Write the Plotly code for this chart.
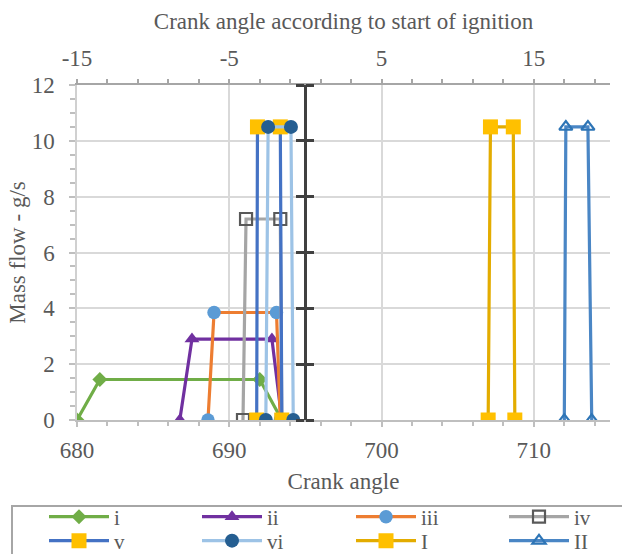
import plotly.graph_objects as go

# Mass flow pulses versus crank angle for each injection case
crank_i = [680.0, 681.5, 692.0, 693.45]
flow_i = [0.0, 1.45, 1.45, 0.0]

crank_ii = [686.75, 687.55, 692.8, 693.45]
flow_ii = [0.0, 2.9, 2.9, 0.0]

crank_iii = [688.6, 689.0, 693.1, 693.35]
flow_iii = [0.0, 3.85, 3.85, 0.0]

crank_iv = [690.9, 691.1, 693.35, 693.45]
flow_iv = [0.0, 7.2, 7.2, 0.0]

crank_v = [691.8, 691.85, 693.35, 693.45]
flow_v = [0.0, 10.5, 10.5, 0.0]

crank_vi = [692.4, 692.55, 694.05, 694.2]
flow_vi = [0.0, 10.5, 10.5, 0.0]

crank_I = [707.0, 707.15, 708.65, 708.75]
flow_I = [0.0, 10.5, 10.5, 0.0]

crank_II = [712.0, 712.1, 713.55, 713.8]
flow_II = [0.0, 10.5, 10.5, 0.0]

ignition_start = 695.0
x_range = [680.0, 715.0]
y_range = [0.0, 12.0]
rel_tick_vals = [-15, -5, 5, 15]
rel_tick_text = ["-15", "-5", "5", "15"]

FONT = "Times New Roman"
TXT = "#595959"
FS = 23

series = [
    ("i", crank_i, flow_i, "#70AD47", dict(symbol="diamond", size=11.5, color="#70AD47")),
    ("ii", crank_ii, flow_ii, "#7030A0", dict(symbol="triangle-up", size=13, color="#7030A0")),
    ("iii", crank_iii, flow_iii, "#ED7D31", dict(symbol="circle", size=13.5, color="#5B9BD5")),
    ("iv", crank_iv, flow_iv, "#A5A5A5",
     dict(symbol="square-open", size=12, color="#595959", line=dict(width=2.2, color="#595959"))),
    ("v", crank_v, flow_v, "#4472C4", dict(symbol="square", size=15, color="#FFC000")),
    ("vi", crank_vi, flow_vi, "#9DC3E6", dict(symbol="circle", size=14, color="#255E91")),
    ("I", crank_I, flow_I, "#E3AC00", dict(symbol="square", size=15, color="#FFC000")),
    ("II", crank_II, flow_II, "#4A86C5",
     dict(symbol="triangle-up-open", size=11.5, color="#2E75B6", line=dict(width=2.2, color="#2E75B6"))),
]

# legend grid: 4 columns x 2 rows, one legend per entry
LEG_COL_PX = [44, 197, 351, 504]
LEG_ROW_PX = [517, 541]
PLOT_L, PLOT_T, PLOT_W, PLOT_H = 77, 85, 533, 335

tf = dict(family=FONT, size=FS, color=TXT)
leg_font = dict(family=FONT, size=21, color=TXT)

fig = go.Figure()
legends = {}
for k, (name, xs, ys, lc, mk) in enumerate(series):
    leg_id = "legend" if k == 0 else f"legend{k + 1}"
    fig.add_trace(go.Scatter(
        x=xs, y=ys, name=name, mode="lines+markers",
        line=dict(color=lc, width=3.2), marker=mk, legend=leg_id,
    ))
    col, row = k % 4, k // 4
    legends[leg_id] = dict(
        x=(LEG_COL_PX[col] - PLOT_L) / PLOT_W, xanchor="left",
        y=(PLOT_T + PLOT_H - LEG_ROW_PX[row]) / PLOT_H, yanchor="middle",
        itemwidth=60, bgcolor="rgba(0,0,0,0)", borderwidth=0,
        font=leg_font, itemsizing="trace",
    )

# empty traces so the secondary axes get drawn
for xa, ya in (("x2", "y"), ("x", "y2"), ("x", "y3")):
    fig.add_trace(go.Scatter(x=[], y=[], xaxis=xa, yaxis=ya, showlegend=False,
                             hoverinfo="skip", mode="lines"))

ign_pos = (ignition_start - x_range[0]) / (x_range[1] - x_range[0])

fig.update_layout(
    width=622, height=554,
    margin=dict(l=PLOT_L, r=12, t=PLOT_T, b=134, autoexpand=False),
    paper_bgcolor="white", plot_bgcolor="white",
    font=tf,
    showlegend=True,
    **legends,
    xaxis=dict(
        range=x_range, tick0=680, dtick=10,
        showgrid=True, gridcolor="#D9D9D9", gridwidth=1.5,
        showline=True, linecolor="#BFBFBF", linewidth=1.5,
        ticks="outside", ticklen=5, tickwidth=1.5, tickcolor="#BFBFBF",
        minor=dict(dtick=2, tick0=680, ticks="outside", ticklen=4, tickwidth=1.5,
                   tickcolor="#BFBFBF", showgrid=False),
        zeroline=False, ticklabelstandoff=4,
        title=dict(text="Crank angle", standoff=11, font=tf),
        tickfont=tf,
    ),
    xaxis2=dict(
        overlaying="x", side="top", anchor="y",
        range=[x_range[0] - ignition_start, x_range[1] - ignition_start],
        tickmode="array", tickvals=rel_tick_vals, ticktext=rel_tick_text,
        showgrid=False, zeroline=False,
        showline=True, linecolor="#A6A6A6", linewidth=2,
        ticks="outside", ticklen=4, tickwidth=1.5, tickcolor="#A6A6A6",
        minor=dict(dtick=2, tick0=-15, ticks="outside", ticklen=4, tickwidth=1.5,
                   tickcolor="#A6A6A6", showgrid=False),
        ticklabelstandoff=4,
        title=dict(text="Crank angle according to start of ignition", standoff=10, font=tf),
        tickfont=tf,
    ),
    yaxis=dict(
        range=y_range, dtick=2,
        showgrid=True, gridcolor="#D9D9D9", gridwidth=1.5,
        showline=True, linecolor="#D0D0D0", linewidth=1.5,
        ticks="outside", ticklen=6, tickwidth=1.5, tickcolor="#BFBFBF",
        minor=dict(dtick=0.5, ticks="outside", ticklen=5, tickwidth=1.5,
                   tickcolor="#BFBFBF", showgrid=False),
        zeroline=False, ticklabelstandoff=10,
        title=dict(text="Mass flow - g/s", standoff=0, font=tf),
        tickfont=tf,
    ),
    # secondary vertical axis crossing the top axis at zero (start of ignition)
    yaxis2=dict(
        overlaying="y", anchor="free", position=ign_pos, side="left",
        range=y_range, dtick=2, showgrid=False, zeroline=False,
        showline=True, linecolor="#404040", linewidth=3.3,
        ticks="outside", ticklen=8, tickwidth=3, tickcolor="#404040",
        showticklabels=False,
    ),
    yaxis3=dict(
        overlaying="y", anchor="free", position=ign_pos, side="right",
        range=y_range, dtick=2, showgrid=False, zeroline=False,
        showline=False,
        ticks="outside", ticklen=8, tickwidth=3, tickcolor="#404040",
        showticklabels=False,
    ),
    # frame around the legend block
    shapes=[dict(
        type="rect", xref="paper", yref="paper", layer="below",
        x0=(12 - PLOT_L) / PLOT_W, x1=(630 - PLOT_L) / PLOT_W,
        y0=(PLOT_T + PLOT_H - 506) / PLOT_H, y1=(PLOT_T + PLOT_H - 562) / PLOT_H,
        line=dict(color="#A6A6A6", width=2), fillcolor="rgba(0,0,0,0)",
    )],
)

fig.write_html("out.html")
